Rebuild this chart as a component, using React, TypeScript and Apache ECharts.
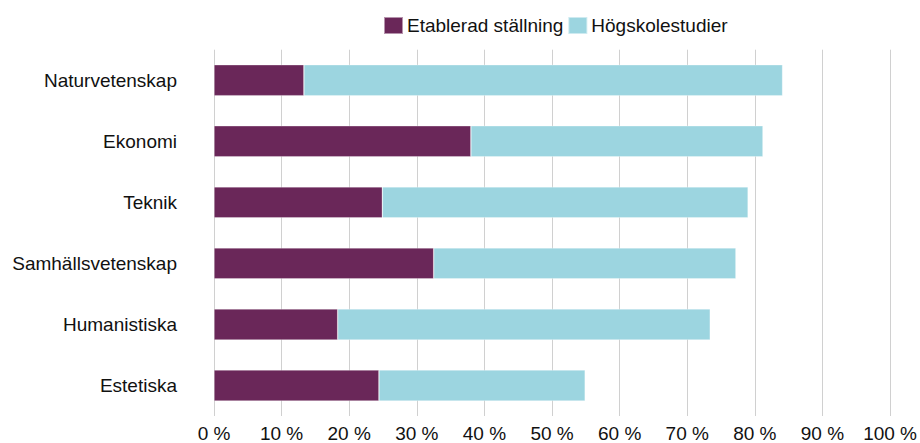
import React, { useEffect, useRef } from "react";
import * as echarts from "echarts";

const categories = ["Naturvetenskap", "Ekonomi", "Teknik", "Samhällsvetenskap", "Humanistiska", "Estetiska"];
const seriesNames = ["Etablerad ställning", "Högskolestudier"];
const etablerad = [13.3, 38.0, 24.9, 32.5, 18.3, 24.4];
const hogskole = [70.8, 43.2, 54.1, 44.7, 55.1, 30.5];
const xTickSuffix = " %";

const FONT = "'Liberation Sans', Arial, Helvetica, sans-serif";

export default function App() {
  const ref = useRef<HTMLDivElement>(null);
  useEffect(() => {
    if (!ref.current) return;
    const chart = echarts.init(ref.current, undefined, { renderer: "svg" });
    chart.setOption({
      animation: false,
      textStyle: { fontFamily: FONT },
      legend: {
        left: 383,
        top: 16,
        padding: 0,
        itemWidth: 19,
        itemHeight: 17,
        itemGap: 4,
        icon: "rect",
        textStyle: { fontSize: 19, color: "#111", fontFamily: FONT, padding: [0, 0, 0, -1] },
        data: seriesNames,
      },
      grid: { left: 214, right: 28.5, top: 49.7, bottom: 23.4, containLabel: false },
      xAxis: {
        type: "value",
        min: 0,
        max: 100,
        interval: 10,
        axisLine: { show: false },
        axisTick: { show: false },
        splitLine: { show: true, lineStyle: { color: "#d0d0d0", width: 1 } },
        axisLabel: {
          formatter: (v: number) => v + xTickSuffix,
          fontSize: 19,
          color: "#111",
          margin: 8,
          fontFamily: FONT,
        },
      },
      yAxis: {
        type: "category",
        data: categories,
        inverse: true,
        axisLine: { show: false },
        axisTick: { show: false },
        axisLabel: { fontSize: 19, color: "#111", margin: 37, fontFamily: FONT },
      },
      series: [
        {
          name: seriesNames[0],
          type: "bar",
          stack: "total",
          barWidth: 31,
          data: etablerad,
          itemStyle: { color: "#6a2759", borderColor: "rgba(255,255,255,0.5)", borderWidth: 0.6 },
        },
        {
          name: seriesNames[1],
          type: "bar",
          stack: "total",
          barWidth: 31,
          data: hogskole,
          itemStyle: { color: "#9cd5e0", borderColor: "rgba(255,255,255,0.5)", borderWidth: 0.6 },
        },
      ],
    });
    return () => chart.dispose();
  }, []);
  return (
    <div
      ref={ref}
      style={{ position: "absolute", left: 0, top: 0, width: 920, height: 443, background: "#fff" }}
    />
  );
}
